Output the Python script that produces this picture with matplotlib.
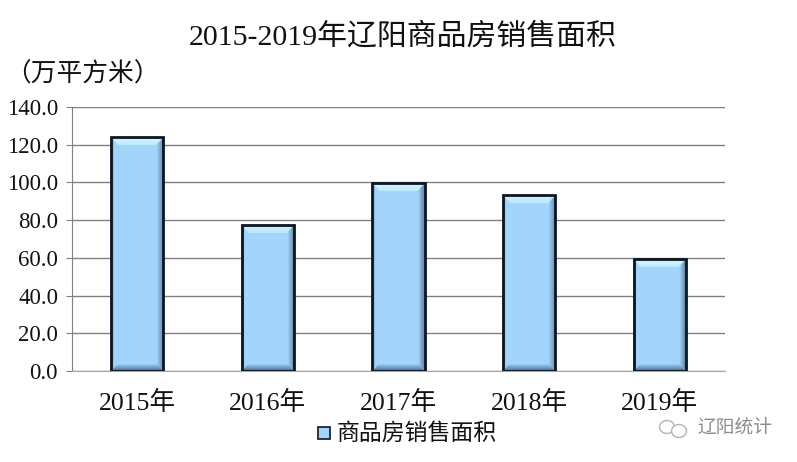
import numpy as np
import matplotlib
matplotlib.use("Agg")
import matplotlib.pyplot as plt
from matplotlib.colors import to_rgb
from matplotlib.patches import Polygon, Ellipse, Rectangle

plt.rcParams['font.family'] = ['Liberation Serif', 'Noto Sans CJK SC', 'DejaVu Sans']

years = ['2015年', '2016年', '2017年', '2018年', '2019年']
area = [124.1, 77.5, 99.7, 93.2, 59.4]
yticks = [0, 20, 40, 60, 80, 100, 120, 140]
ylabels = ['0.0', '20.0', '40.0', '60.0', '80.0', '100.0', '120.0', '140.0']
title = '2015-2019年辽阳商品房销售面积'
unit = '（万平方米）'
legend_name = '商品房销售面积'
mark = '辽阳统计'

fig = plt.figure(figsize=(7.97, 4.62), dpi=100)
ax = fig.add_axes([72 / 797, 1 - 371 / 462, 653 / 797, 264 / 462])

x = np.arange(len(years))
bar_w = 0.4
face = '#A3D4FC'
edge = '#0C1622'


def mix(c1, c2, t):
    a = np.array(to_rgb(c1))
    b = np.array(to_rgb(c2))
    return tuple(a + (b - a) * t)


ax.set_xlim(-0.5, 4.5)
ax.set_ylim(0, 140)
ax.set_axisbelow(True)
ax.grid(axis='y', color='#808080', lw=1.0)

ax.bar(x, area, width=bar_w, color=face, edgecolor='none', zorder=3)

# bevel on every bar, sizes in data units, faded in thin strips
bx = 0.054
by = 4.2
steps = 8
for xi, v in zip(x, area):
    l = xi - bar_w / 2
    r = xi + bar_w / 2
    for k in range(steps):
        t0 = k / steps
        t1 = (k + 1) / steps
        t = k / (steps - 1)
        dx0, dx1 = bx * t0, bx * t1
        dy0, dy1 = by * t0, by * t1
        ax.add_patch(Polygon([(l + dx0, dy0), (r - dx0, dy0), (r - dx1, dy1), (l + dx1, dy1)],
                             fc=mix('#4F6E8E', face, t), ec='none', zorder=4))
        ax.add_patch(Polygon([(r - dx0, dy0), (r - dx0, v - dy0), (r - dx1, v - dy1), (r - dx1, dy1)],
                             fc=mix('#55789A', face, t), ec='none', zorder=4))
        ax.add_patch(Polygon([(l + dx0, dy0), (l + dx0, v - dy0), (l + dx1, v - dy1), (l + dx1, dy1)],
                             fc=mix('#4F6E8E', face, min(t * 2.5, 1)), ec='none', zorder=4))
        ax.add_patch(Polygon([(l + dx0, v - dy0), (r - dx0, v - dy0), (r - dx1, v - dy1), (l + dx1, v - dy1)],
                             fc=mix('#D6F6FF', '#C2EEFF', t), ec='none', zorder=4))
    ax.add_patch(Rectangle((l, 0), bar_w, v, fc='none', ec=edge, lw=2.0, zorder=5))

for s in ['top', 'right']:
    ax.spines[s].set_visible(False)
ax.spines['left'].set_color('#808080')
ax.spines['bottom'].set_color('#A6A6A6')

ax.set_xticks(x)
ax.set_xticklabels(years, fontsize=18.5, color='#111111')
ax.set_yticks(yticks)
ax.set_yticklabels(ylabels, fontsize=16.5, color='#111111')
ax.tick_params(axis='x', length=0, pad=14)
ax.tick_params(axis='y', length=4, color='#808080', pad=6)

fig.text(403 / 797, 1 - 37 / 462, title, fontsize=21.5, ha='center', va='center', color='#111111')
fig.text(5 / 797, 1 - 74 / 462, unit, fontsize=18.5, ha='left', va='center', color='#111111')

# legend drawn by hand so the key sits as in the picture
fig.add_artist(Rectangle((318 / 797, 1 - 439 / 462), 12 / 797, 12 / 462, fc=face,
                         ec=edge, lw=1.2, transform=fig.transFigure))
fig.text(337 / 797, 1 - 434 / 462, legend_name, fontsize=16.5, ha='left', va='center', color='#111111')

# watermark
fig.add_artist(Ellipse((667 / 797, 1 - 427 / 462), 15 / 797, 13 / 462, fc='white',
                       ec='#B5B5B5', lw=1, transform=fig.transFigure))
fig.add_artist(Ellipse((679 / 797, 1 - 431 / 462), 15 / 797, 13 / 462, fc='white',
                       ec='#B5B5B5', lw=1, transform=fig.transFigure))
fig.text(697 / 797, 1 - 428 / 462, mark, fontsize=13.5, ha='left', va='center', color='#8C8C8C')

fig.savefig('out.png', dpi=100)
